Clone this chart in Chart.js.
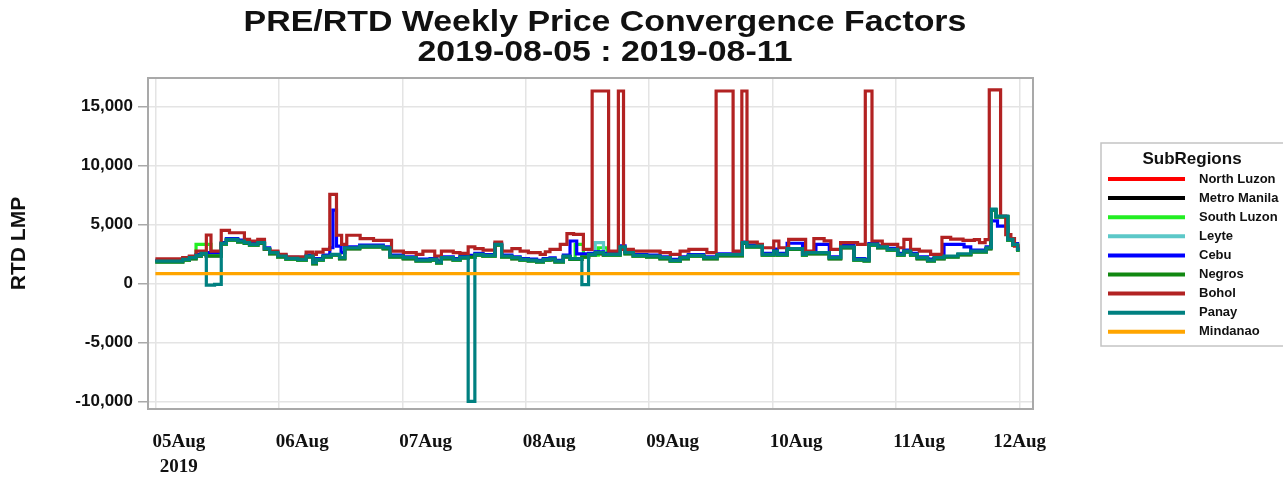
<!DOCTYPE html>
<html>
<head>
<meta charset="utf-8">
<title>PRE/RTD Weekly Price Convergence Factors</title>
<script src="https://cdn.jsdelivr.net/npm/chart.js@4.4.0/dist/chart.umd.min.js"></script>
<style>
  html, body { margin: 0; padding: 0; background: #fff; }
  #wrap { width: 1283px; height: 479px; }
</style>
</head>
<body>
<div id="wrap"><canvas id="lmpChart" width="1283" height="479"></canvas></div>
<script>
// x = hours counted from 2019-08-05 00:00, each pair is [hour the price changes, RTD LMP]
const dayTicks = [0, 24, 48, 72, 96, 120, 144, 168];
const dayLabels = ['05Aug', '06Aug', '07Aug', '08Aug', '09Aug', '10Aug', '11Aug', '12Aug'];
const yTicks = [-10000, -5000, 0, 5000, 10000, 15000];

const regionNames = ['North Luzon', 'Metro Manila', 'South Luzon', 'Leyte', 'Cebu', 'Negros', 'Bohol', 'Panay', 'Mindanao'];
const regionColors = ['#ff0000', '#000000', '#22ee22', '#5cc8c8', '#0000ff', '#118811', '#b22222', '#008080', '#ffa500'];

// North Luzon, Metro Manila and Negros sit on the same trace in the picture
const gridCommon = [[0,1820],[5.3,1960],[6.6,2100],[7.9,2300],[8.9,2470],[9.9,2330],[12.8,3320],[13.8,3660],[16,3520],[17.3,3380],[18.3,3230],[19.9,3380],[21.2,2870],[22.2,2530],[23.8,2250],[25.4,2050],[27.7,1960],[29.3,2250],[30.6,1680],[31.3,1960],[32.6,2250],[34.2,2390],[35.8,2100],[36.8,2950],[39.7,3090],[44.3,2950],[45.6,2250],[48.2,2100],[50.7,1910],[53.4,1960],[54.7,1740],[55.6,2100],[57.9,1960],[59.2,2160],[60.8,2230],[62.1,2390],[63.7,2300],[66,3230],[67.3,2250],[69.3,2100],[70.9,1960],[72.5,1910],[74.1,1820],[75.4,1960],[76.7,2020],[77.7,1820],[79.3,2250],[80.6,2030],[82.9,2230],[84.2,2390],[85.5,2530],[87.1,2390],[90.3,3030],[91.3,2530],[92.9,2300],[95.5,2250],[98.1,2100],[100.1,1880],[102,2100],[103.6,2300],[106.6,2100],[109.2,2360],[114.1,3380],[115,3090],[118,2390],[120.2,2670],[120.9,2390],[122.8,2870],[125.8,2390],[126.5,2530],[131,2100],[133.2,3030],[135.8,1960],[137.8,1910],[138.7,3230],[140.4,3030],[142.3,2810],[144.3,2390],[145.5,2670],[146.8,2390],[148.1,2100],[150.1,1910],[151.4,2100],[153.3,2250],[156,2440],[158.5,2670],[161.5,2950],[162.4,6200],[163.4,5630],[165.7,3660],[166.7,3230],[167.6,2810],[168,2810]];

const southLuzon = [[0,1820],[5.3,1960],[6.6,2100],[7.9,3300],[10.8,2450],[12.8,3320],[13.8,3660],[16,3520],[17.3,3380],[18.3,3230],[19.9,3380],[21.2,2870],[22.2,2530],[23.8,2250],[25.4,2050],[27.7,1960],[29.3,2250],[30.6,1680],[31.3,1960],[32.6,2250],[34.2,2390],[35.8,2100],[36.8,2950],[39.7,3090],[44.3,2950],[45.6,2250],[48.2,2100],[50.7,1910],[53.4,1960],[54.7,1740],[55.6,2100],[57.9,1960],[59.2,2160],[60.8,2230],[62.1,2390],[63.7,2300],[66,3230],[67.3,2250],[69.3,2100],[70.9,1960],[72.5,1910],[74.1,1820],[75.4,1960],[76.7,2020],[77.7,1820],[79.3,2250],[80.6,2030],[81.6,3300],[83.2,2230],[84.2,2390],[86.1,3020],[87.8,2390],[90.3,3030],[91.3,2530],[92.9,2300],[95.5,2250],[98.1,2100],[100.1,1880],[102,2100],[103.6,2300],[106.6,2100],[109.2,2360],[114.1,3380],[115,3090],[118,2390],[120.2,2670],[120.9,2390],[122.8,2870],[125.8,2390],[126.5,2530],[131,2100],[133.2,3030],[135.8,1960],[137.8,1910],[138.7,3230],[140.4,3030],[142.3,2810],[144.3,2390],[145.5,2670],[146.8,2390],[148.1,2100],[150.1,1910],[151.4,2100],[153.3,2250],[156,2440],[158.5,2670],[161.5,2950],[162.4,6200],[163.4,5630],[165.7,3660],[166.7,3230],[167.6,2810],[168,2810]];

const leyte = [[0,1820],[5.3,1960],[6.6,2100],[7.9,2300],[8.9,2470],[9.9,2330],[12.8,3320],[13.8,3660],[16,3520],[17.3,3380],[18.3,3230],[19.9,3380],[21.2,2870],[22.2,2530],[23.8,2250],[25.4,2050],[27.7,1960],[29.3,2250],[30.6,1680],[31.3,1960],[32.6,2250],[34.2,2390],[35.8,2100],[36.8,2950],[39.7,3090],[44.3,2950],[45.6,2250],[48.2,2100],[50.7,1910],[53.4,1960],[54.7,1740],[55.6,2100],[57.9,1960],[59.2,2160],[60.8,2230],[62.1,2390],[63.7,2300],[66,3230],[67.3,2250],[69.3,2100],[70.9,1960],[72.5,1910],[74.1,1820],[75.4,1960],[76.7,2020],[77.7,1820],[79.3,2250],[80.6,2030],[82.9,2230],[84.2,2390],[85.5,3450],[87.1,2390],[90.3,3030],[91.3,2530],[92.9,2300],[95.5,2250],[98.1,2100],[100.1,1880],[102,2100],[103.6,2300],[106.6,2100],[109.2,2360],[114.1,3380],[115,3090],[118,2390],[120.2,2670],[120.9,2390],[122.8,2870],[125.8,2390],[126.5,2530],[131,2100],[133.2,3030],[135.8,1960],[137.8,1910],[138.7,3230],[140.4,3030],[142.3,2810],[144.3,2390],[145.5,2670],[146.8,2390],[148.1,2100],[150.1,1910],[151.4,2100],[153.3,2250],[156,2440],[158.5,2670],[161.5,2950],[162.4,6200],[163.4,5630],[165.7,3660],[166.7,3230],[167.6,2810],[168,2810]];

const cebu = [[0,1960],[5.3,2100],[6.6,2250],[7.9,2450],[8.9,2620],[9.9,2600],[12.8,3450],[13.8,3800],[16,3660],[17.3,3520],[18.3,3380],[19.9,3520],[21.2,3010],[22.2,2680],[23.8,2400],[25.4,2200],[27.7,2100],[29.3,2400],[30.6,1830],[31.3,2100],[32.6,2400],[33.9,3020],[34.5,6200],[35.2,3160],[36.1,2600],[36.8,3100],[39.7,3240],[44.3,3100],[45.6,2400],[48.2,2250],[50.7,2060],[53.4,2100],[54.7,1890],[55.6,2250],[57.9,2100],[59.2,2300],[60.8,2380],[62.1,2540],[63.7,2450],[66,3380],[67.3,2400],[69.3,2250],[70.9,2100],[72.5,2060],[74.1,1960],[75.4,2100],[76.7,2170],[77.7,1960],[79.3,2400],[80.6,3590],[81.9,2500],[84.2,2540],[85.5,2680],[87.1,2540],[90.3,3180],[91.3,2680],[92.9,2450],[95.5,2400],[98.1,2250],[100.1,2030],[102,2250],[103.6,2450],[106.6,2250],[109.2,2500],[114.1,3500],[115,3240],[118,2540],[120.2,2900],[120.9,2540],[122.8,3400],[125.8,2540],[128.4,3300],[131,2250],[133.2,3300],[135.8,2100],[137.8,2060],[138.7,3380],[140.4,3180],[142.3,2960],[144.3,2540],[145.5,2820],[146.8,2540],[148.1,2250],[150.1,2060],[151.4,2250],[153.3,3300],[157.2,3100],[158.5,2820],[161.5,3100],[162.4,5300],[163.7,4860],[165.7,3800],[166.7,3380],[167.6,2960],[168,2960]];

const bohol = [[0,2090],[5.3,2175],[6.6,2320],[7.9,2740],[9.9,4100],[10.8,2740],[12.8,4490],[14.4,4290],[17.3,3730],[18.3,3590],[19.9,3730],[21.2,2940],[22.2,2740],[23.8,2460],[25.4,2250],[27.7,2250],[29.3,2650],[30.6,2460],[31.3,2650],[32.6,2880],[33.9,7540],[35.2,4080],[36.2,3300],[37.2,4080],[39.8,3800],[42.4,3650],[45.9,2740],[48.2,2600],[50.7,2460],[52,2740],[54.3,2320],[55.6,2740],[57.9,2600],[59.2,2540],[60.8,3100],[62.1,2940],[63.7,2825],[66,3500],[67.3,2740],[69.3,2940],[70.9,2740],[72.5,2600],[74.8,2460],[75.8,2680],[76.7,2880],[78.7,3300],[80,4210],[81.3,4150],[83.2,2880],[84.9,16300],[88.1,2740],[90,16300],[91,2880],[92.9,2740],[98.1,2600],[100.1,2460],[102,2740],[103.7,2880],[107.2,2600],[109,16300],[112.3,2740],[114,16300],[115,3500],[117,3300],[118,3020],[120.2,3590],[121.2,3020],[123.1,3730],[126.4,2740],[128,3790],[130,3600],[131.3,2880],[133.2,3450],[136.5,3300],[138,16300],[139.3,3590],[141.3,3300],[144.3,3020],[145.5,3730],[146.8,2880],[148.5,2740],[150.7,2460],[152.9,3900],[154.6,3750],[157,3650],[159.2,3700],[160.2,3450],[161.3,3700],[162.1,16400],[164.3,5700],[165.3,4140],[166.3,3800],[167,3150],[168,3150]];

const panay = [[0,1890],[5.3,2030],[6.6,2175],[7.9,2370],[8.9,2540],[9.9,-150],[11.5,-80],[12.8,3390],[13.8,3730],[16,3590],[17.3,3450],[18.3,3300],[19.9,3450],[21.2,2940],[22.2,2600],[23.8,2320],[25.4,2120],[27.7,2030],[29.3,2320],[30.6,1750],[31.3,2030],[32.6,2320],[34.2,2460],[35.8,2175],[36.8,3020],[39.7,3160],[44.3,3020],[45.6,2320],[48.2,2175],[50.7,1980],[53.4,2030],[54.7,1810],[55.6,2175],[57.9,2030],[59.2,2230],[60.8,-10000],[62.1,2460],[63.7,2370],[66,3300],[67.3,2320],[69.3,2175],[70.9,2030],[72.5,1980],[74.1,1890],[75.4,2030],[76.7,2090],[77.7,1890],[79.3,2320],[80.6,2100],[82.9,-100],[84.2,2460],[85.5,2600],[87.1,2460],[90.3,3100],[91.3,2600],[92.9,2370],[95.5,2320],[98.1,2175],[100.1,1950],[102,2175],[103.6,2370],[106.6,2175],[109.2,2430],[114.1,3450],[115,3160],[118,2460],[120.2,2740],[120.9,2460],[122.8,2940],[125.8,2460],[126.5,2600],[131,2175],[133.2,3100],[135.8,2030],[137.8,1980],[138.7,3300],[140.4,3100],[142.3,2880],[144.3,2460],[145.5,2740],[146.8,2460],[148.1,2175],[150.1,1980],[151.4,2175],[153.3,2320],[156,2510],[158.5,2740],[161.5,3020],[162.5,6300],[163.4,5700],[165.7,3730],[166.7,3300],[167.6,2880],[168,2880]];

const mindanao = [[0,820],[168,820]];

const regionSeries = [gridCommon, gridCommon, southLuzon, leyte, cebu, gridCommon, bohol, panay, mindanao];

const toPoints = pairs => pairs.map(p => ({ x: p[0], y: p[1] }));

const datasets = regionNames.map((name, i) => ({
  label: name,
  data: toPoints(regionSeries[i]),
  borderColor: regionColors[i],
  backgroundColor: regionColors[i],
  borderWidth: 3.2,
  stepped: true,
  pointRadius: 0,
  fill: false,
  order: regionNames.length - i   // later regions paint over earlier ones
}));

// titles, plot frame, date labels and the SubRegions box
const decorPlugin = {
  id: 'decor',
  beforeDatasetsDraw(chart) {
    const ctx = chart.ctx, a = chart.chartArea;
    ctx.save();
    ctx.strokeStyle = '#a9a9a9';
    ctx.lineWidth = 2;
    ctx.strokeRect(a.left, a.top, a.right - a.left, a.bottom - a.top);
    ctx.restore();
  },
  afterDraw(chart) {
    const ctx = chart.ctx;
    const xs = chart.scales.x;
    ctx.save();
    ctx.fillStyle = '#111';
    ctx.textBaseline = 'alphabetic';

    // main title, a touch wider than the plain font
    ctx.save();
    ctx.translate(605, 0);
    ctx.scale(1.13, 1);
    ctx.textAlign = 'center';
    ctx.font = 'bold 30px "Liberation Sans", Arial, sans-serif';
    ctx.fillText('PRE/RTD Weekly Price Convergence Factors', 0, 31);
    ctx.fillText('2019-08-05 : 2019-08-11', 0, 61);
    ctx.restore();

    // date labels under the axis
    ctx.font = 'bold 19px "Liberation Serif", "Times New Roman", serif';
    dayTicks.forEach((h, i) => {
      const px = xs.getPixelForValue(h);
      if (i === dayTicks.length - 1) {
        ctx.textAlign = 'center';
        ctx.fillText(dayLabels[i], px, 447);
      } else {
        ctx.textAlign = 'left';
        ctx.fillText(dayLabels[i], px - 3, 447);
      }
    });
    ctx.textAlign = 'center';
    const firstW = ctx.measureText(dayLabels[0]).width;
    ctx.fillText('2019', xs.getPixelForValue(dayTicks[0]) - 3 + firstW / 2, 472);

    // legend
    const lx = 1101, ly = 143;
    ctx.strokeStyle = '#c4c4c4';
    ctx.lineWidth = 1.5;
    ctx.strokeRect(lx, ly, 200, 203);
    ctx.fillStyle = '#111';
    ctx.font = 'bold 17px "Liberation Sans", Arial, sans-serif';
    ctx.textAlign = 'center';
    ctx.fillText('SubRegions', 1192, 164);
    ctx.font = 'bold 13px "Liberation Sans", Arial, sans-serif';
    ctx.textAlign = 'left';
    ctx.textBaseline = 'middle';
    regionNames.forEach((name, i) => {
      const ry = 179 + i * 19.1;
      ctx.strokeStyle = regionColors[i];
      ctx.lineWidth = 4;
      ctx.beginPath();
      ctx.moveTo(1108, ry);
      ctx.lineTo(1185, ry);
      ctx.stroke();
      ctx.fillStyle = '#111';
      ctx.fillText(name, 1199, ry);
    });
    ctx.restore();
  }
};

new Chart(document.getElementById('lmpChart'), {
  type: 'line',
  data: { datasets: datasets },
  options: {
    responsive: false,
    animation: false,
    layout: { padding: { top: 78, right: 250, left: 0, bottom: 0 } },
    plugins: {
      legend: { display: false },
      title: { display: false },
      tooltip: { enabled: false }
    },
    scales: {
      x: {
        type: 'linear',
        min: -1.44,
        max: 170.6,
        afterBuildTicks: s => { s.ticks = dayTicks.map(v => ({ value: v })); },
        afterFit: s => { s.height = 70; },
        grid: { color: '#e4e4e4', lineWidth: 1.5, drawTicks: false },
        border: { display: false },
        ticks: { display: false }
      },
      y: {
        min: -10640,
        max: 17400,
        afterBuildTicks: s => { s.ticks = yTicks.map(v => ({ value: v })); },
        afterFit: s => { s.width = 148; },
        grid: { color: '#e4e4e4', lineWidth: 1.5, tickLength: 10, tickColor: '#a9a9a9', tickWidth: 1.5 },
        border: { display: false },
        ticks: {
          padding: 5,
          color: '#111',
          font: { family: '"Liberation Sans", Arial, sans-serif', size: 17, weight: 'bold' },
          callback: v => v.toLocaleString('en-US')
        },
        title: {
          display: true,
          text: 'RTD LMP',
          color: '#111',
          padding: { top: 7, bottom: 0 },
          font: { family: '"Liberation Sans", Arial, sans-serif', size: 21, weight: 'bold' }
        }
      }
    }
  },
  plugins: [decorPlugin]
});
</script>
</body>
</html>
